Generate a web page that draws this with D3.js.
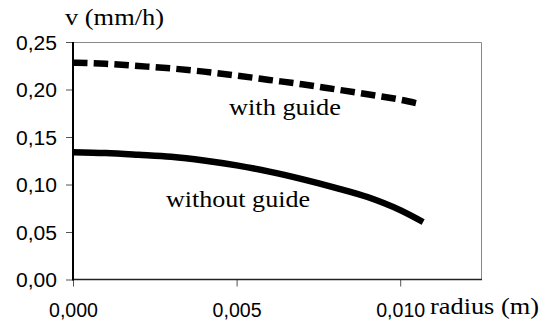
<!DOCTYPE html>
<html>
<head>
<meta charset="utf-8">
<script src="https://cdn.jsdelivr.net/npm/d3@7"></script>
<style>
  body { margin: 0; background: #fff; }
  .tick-label { font-family: "Liberation Sans", Arial, sans-serif; font-size: 19.5px; fill: #000; }
  .serif { font-family: "Liberation Serif", "Times New Roman", serif; font-size: 23px; fill: #000; }
</style>
</head>
<body>
<svg></svg>
<script>
// radius (m) and velocity (mm/h)
var radiusWith = [0, 0.001, 0.002, 0.003, 0.004, 0.005, 0.006, 0.007, 0.008, 0.009, 0.010, 0.0105];
var vWith      = [0.2282, 0.2270, 0.2247, 0.2222, 0.2188, 0.2147, 0.2101, 0.2055, 0.2003, 0.1950, 0.1893, 0.1856];

var radiusWithout = [0, 0.001, 0.002, 0.003, 0.004, 0.005, 0.006, 0.007, 0.008, 0.009, 0.010, 0.0107];
var vWithout      = [0.1340, 0.1331, 0.1313, 0.1292, 0.1253, 0.1201, 0.1136, 0.1057, 0.0968, 0.0868, 0.0730, 0.0605];

var xTicks = [0, 0.005, 0.010];
var yTicks = [0, 0.05, 0.10, 0.15, 0.20, 0.25];

var svgWidth = 557, svgHeight = 327;
var margin = { top: 42, right: 75, bottom: 47.5, left: 73 };
var width = svgWidth - margin.left - margin.right;
var height = svgHeight - margin.top - margin.bottom;

var svg = d3.select("svg")
  .attr("width", svgWidth)
  .attr("height", svgHeight);

var chart = svg.append("g")
  .attr("transform", `translate(${margin.left}, ${margin.top})`);

var x = d3.scaleLinear().domain([0, 0.0125]).range([0, width]);
var y = d3.scaleLinear().domain([0, 0.25]).range([height, 0]);

var comma = (f) => (d) => d3.format(f)(d).replace(".", ",");

// frame: grey top and right
chart.append("path")
  .attr("d", `M0,0.5H${width - 0.5}V${height}`)
  .attr("fill", "none")
  .attr("stroke", "#888")
  .attr("stroke-width", 1);

// axes
var yAxis = chart.append("g")
  .call(d3.axisLeft(y).tickValues(yTicks).tickFormat(comma(".2f")).tickSize(7).tickPadding(9));
yAxis.select(".domain").remove();
yAxis.selectAll("line").attr("stroke", "#555");
yAxis.selectAll("text")
  .attr("class", "tick-label")
  .attr("dy", "0.37em")
  .attr("textLength", 41)
  .attr("lengthAdjust", "spacingAndGlyphs");

var xAxis = chart.append("g")
  .attr("transform", "translate(0," + height + ")")
  .call(d3.axisBottom(x).tickValues(xTicks).tickFormat(comma(".3f")).tickSize(7));
xAxis.select(".domain").remove();
xAxis.selectAll("line").attr("stroke", "#555");
xAxis.selectAll("text")
  .attr("class", "tick-label")
  .attr("y", 37)
  .attr("dy", 0)
  .attr("textLength", 49)
  .attr("lengthAdjust", "spacingAndGlyphs");

// bottom and left axis lines
chart.append("line")
  .attr("x1", 0).attr("x2", width)
  .attr("y1", height).attr("y2", height)
  .attr("stroke", "#222").attr("stroke-width", 1.5);
chart.append("line")
  .attr("x1", 0).attr("x2", 0)
  .attr("y1", 0).attr("y2", height + 1)
  .attr("stroke", "#000").attr("stroke-width", 2);

// curves
var line = d3.line()
  .x((d) => x(d[0]))
  .y((d) => y(d[1]))
  .curve(d3.curveMonotoneX);

chart.append("path")
  .datum(d3.zip(radiusWithout, vWithout))
  .attr("d", line)
  .attr("fill", "none")
  .attr("stroke", "#000")
  .attr("stroke-width", 6.5);

chart.append("path")
  .datum(d3.zip(radiusWith, vWith))
  .attr("d", line)
  .attr("fill", "none")
  .attr("stroke", "#000")
  .attr("stroke-width", 6.5)
  .attr("stroke-dasharray", "14.5,6.2");

//add lables
svg.append("text")
  .attr("class", "serif")
  .attr("x", 65).attr("y", 25)
  .attr("textLength", 99).attr("lengthAdjust", "spacingAndGlyphs")
  .text("v (mm/h)");

svg.append("text")
  .attr("class", "serif")
  .attr("x", 430).attr("y", 314)
  .attr("textLength", 109).attr("lengthAdjust", "spacingAndGlyphs")
  .text("radius (m)");

svg.append("text")
  .attr("class", "serif")
  .attr("x", 229).attr("y", 115)
  .attr("textLength", 112).attr("lengthAdjust", "spacingAndGlyphs")
  .text("with guide");

svg.append("text")
  .attr("class", "serif")
  .attr("x", 166).attr("y", 206.5)
  .attr("textLength", 144).attr("lengthAdjust", "spacingAndGlyphs")
  .text("without guide");
</script>
</body>
</html>
